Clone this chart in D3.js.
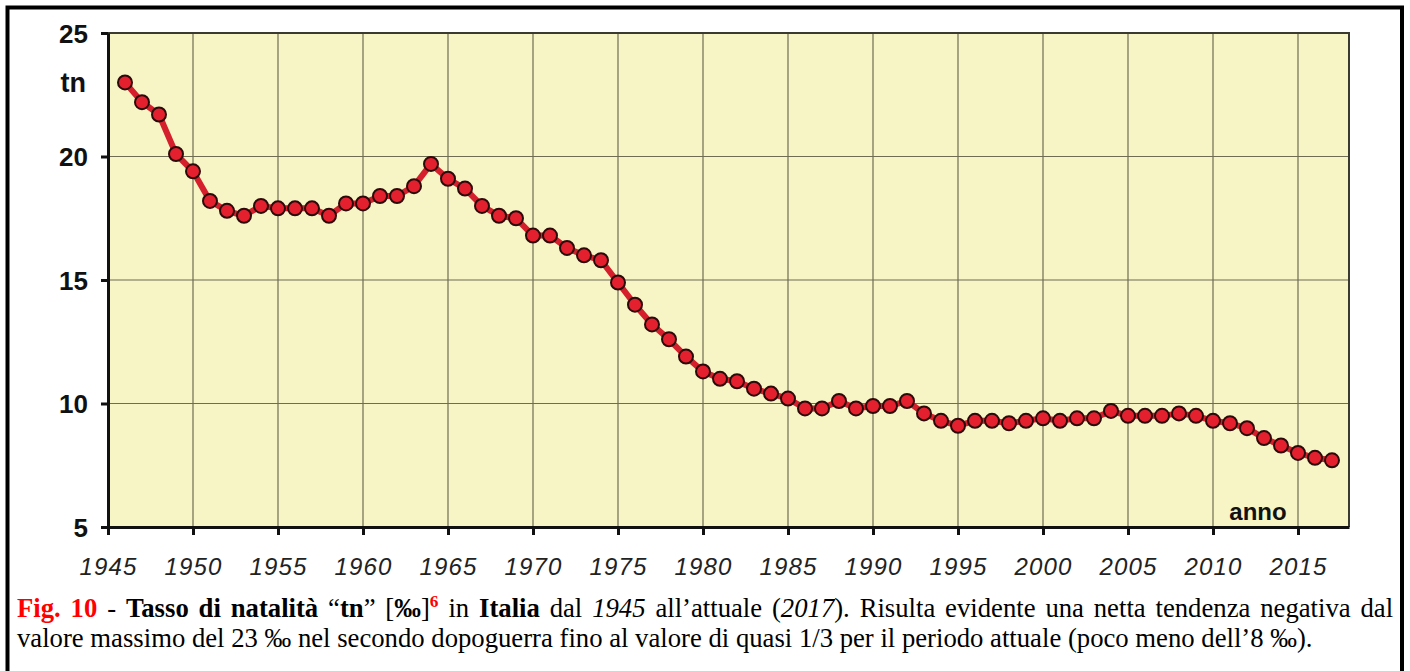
<!DOCTYPE html>
<html>
<head>
<meta charset="utf-8">
<script src="https://cdn.jsdelivr.net/npm/d3@7"></script>
<style>
  body { margin: 0; background: #fff; }
  svg { display: block; }
</style>
</head>
<body>
<div id="chart"></div>
<script>
var W = 1410,
    H = 671;

// anni e tasso di natalità (‰)
var years = [1946, 1947, 1948, 1949, 1950, 1951, 1952, 1953, 1954, 1955,
             1956, 1957, 1958, 1959, 1960, 1961, 1962, 1963, 1964, 1965,
             1966, 1967, 1968, 1969, 1970, 1971, 1972, 1973, 1974, 1975,
             1976, 1977, 1978, 1979, 1980, 1981, 1982, 1983, 1984, 1985,
             1986, 1987, 1988, 1989, 1990, 1991, 1992, 1993, 1994, 1995,
             1996, 1997, 1998, 1999, 2000, 2001, 2002, 2003, 2004, 2005,
             2006, 2007, 2008, 2009, 2010, 2011, 2012, 2013, 2014, 2015,
             2016, 2017];
var tn = [23.0, 22.2, 21.7, 20.1, 19.4, 18.2, 17.8, 17.6, 18.0, 17.9,
          17.9, 17.9, 17.6, 18.1, 18.1, 18.4, 18.4, 18.8, 19.7, 19.1,
          18.7, 18.0, 17.6, 17.5, 16.8, 16.8, 16.3, 16.0, 15.8, 14.9,
          14.0, 13.2, 12.6, 11.9, 11.3, 11.0, 10.9, 10.6, 10.4, 10.2,
          9.8, 9.8, 10.1, 9.8, 9.9, 9.9, 10.1, 9.6, 9.3, 9.1,
          9.3, 9.3, 9.2, 9.3, 9.4, 9.3, 9.4, 9.4, 9.7, 9.5,
          9.5, 9.5, 9.6, 9.5, 9.3, 9.2, 9.0, 8.6, 8.3, 8.0,
          7.8, 7.7];

var xTicks = [1945, 1950, 1955, 1960, 1965, 1970, 1975, 1980, 1985, 1990,
              1995, 2000, 2005, 2010, 2015];
var yTicks = [5, 10, 15, 20, 25];

var data = years.map(function(d, i) { return { year: d, v: tn[i] }; });

var svg = d3.select("#chart").append("svg")
            .attr("width", W)
            .attr("height", H);

var pLeft = 108, pRight = 1349, pTop = 33, pBottom = 527;

var x = d3.scaleLinear().domain([1945, 2018]).range([pLeft, pRight]);
var y = d3.scaleLinear().domain([5, 25]).range([pBottom, pTop]);

// cornice esterna
svg.append("path")
   .attr("d", "M7.5," + (H + 5) + "V7.5H1402V" + (H + 5))
   .attr("fill", "none")
   .attr("stroke", "#000")
   .attr("stroke-width", 4);

// sfondo del grafico
svg.append("rect")
   .attr("x", pLeft)
   .attr("y", pTop)
   .attr("width", pRight - pLeft)
   .attr("height", pBottom - pTop)
   .attr("fill", "#f7f5c6");

// griglia
svg.selectAll("line.vgrid")
   .data(xTicks.slice(1))
   .enter().append("line")
   .attr("class", "vgrid")
   .attr("x1", function(d) { return x(d); })
   .attr("x2", function(d) { return x(d); })
   .attr("y1", pTop)
   .attr("y2", pBottom)
   .attr("stroke", "#6e6c52")
   .attr("stroke-width", 1.2);

svg.selectAll("line.hgrid")
   .data([10, 15, 20])
   .enter().append("line")
   .attr("class", "hgrid")
   .attr("x1", pLeft)
   .attr("x2", pRight)
   .attr("y1", function(d) { return y(d); })
   .attr("y2", function(d) { return y(d); })
   .attr("stroke", "#6e6c52")
   .attr("stroke-width", 1.2);

// bordo superiore e destro
svg.append("path")
   .attr("d", "M" + pLeft + "," + pTop + "H" + pRight + "V" + pBottom)
   .attr("fill", "none")
   .attr("stroke", "#3a3a30")
   .attr("stroke-width", 2);

// assi
var yAxis = svg.append("g")
               .attr("transform", "translate(" + pLeft + ",0)")
               .call(d3.axisLeft(y).tickValues(yTicks).tickSize(7).tickSizeOuter(0).tickPadding(13));

var xAxis = svg.append("g")
               .attr("transform", "translate(0," + pBottom + ")")
               .call(d3.axisBottom(x).tickValues(xTicks).tickSize(8).tickSizeOuter(0).tickFormat(d3.format("d")));

svg.selectAll(".domain").attr("stroke", "#111").attr("stroke-width", 3);
svg.selectAll(".tick line").attr("stroke", "#111").attr("stroke-width", 3);

yAxis.selectAll("text")
     .attr("font-family", "'Liberation Sans', Arial, sans-serif")
     .attr("font-size", "26px")
     .attr("font-weight", "bold")
     .attr("fill", "#111")
     .attr("dy", "0.36em");

xAxis.selectAll("text")
     .attr("font-family", "'Liberation Sans', Arial, sans-serif")
     .attr("font-size", "24px")
     .attr("font-style", "italic")
     .attr("letter-spacing", "1.2px")
     .attr("fill", "#222")
     .attr("y", 48)
     .attr("dy", 0);

svg.append("text")
   .text("tn")
   .attr("x", 86)
   .attr("y", 92)
   .attr("text-anchor", "end")
   .attr("font-family", "'Liberation Sans', Arial, sans-serif")
   .attr("font-size", "27px")
   .attr("font-weight", "bold")
   .attr("fill", "#111");

svg.append("text")
   .text("anno")
   .attr("x", 1258)
   .attr("y", 520)
   .attr("text-anchor", "middle")
   .attr("font-family", "'Liberation Sans', Arial, sans-serif")
   .attr("font-size", "24px")
   .attr("font-weight", "bold")
   .attr("fill", "#111");

// linea e punti
var line = d3.line()
             .x(function(d) { return x(d.year); })
             .y(function(d) { return y(d.v); });

svg.append("path")
   .datum(data)
   .attr("d", line)
   .attr("fill", "none")
   .attr("stroke", "#d61f2c")
   .attr("stroke-width", 6)
   .attr("stroke-linejoin", "round");

svg.selectAll("circle")
   .data(data)
   .enter().append("circle")
   .attr("cx", function(d) { return x(d.year); })
   .attr("cy", function(d) { return y(d.v); })
   .attr("r", 7)
   .attr("fill", "#e5202e")
   .attr("stroke", "#2a0a0a")
   .attr("stroke-width", 2);

// didascalia
var serif = "'Liberation Serif', 'Times New Roman', serif";

var line1 = [
  { t: "Fig. 10", w: "bold", c: "#f00" },
  { t: " - " },
  { t: "Tasso di natalità", w: "bold" },
  { t: " “" },
  { t: "tn", w: "bold" },
  { t: "” [" },
  { t: "‰", w: "bold" },
  { t: "]" },
  { t: "6", w: "bold", c: "#f00", sup: true },
  { t: " in ", down: true },
  { t: "Italia", w: "bold" },
  { t: " dal " },
  { t: "1945", s: "italic" },
  { t: " all’attuale (" },
  { t: "2017", s: "italic" },
  { t: "). Risulta evidente una netta tendenza negativa dal" }
];
var line2 = "valore massimo del 23 ‰ nel secondo dopoguerra fino al valore di quasi 1/3 per il periodo attuale (poco meno dell’8 ‰).";

// la seconda riga finisce a circa x = 1313: si ricava la dimensione del font
var cap2 = svg.append("text")
              .text(line2)
              .attr("x", 17)
              .attr("y", 647)
              .attr("font-family", serif)
              .attr("font-size", "20px")
              .attr("fill", "#000");
var fs = 20 * (1313 - 17) / cap2.node().getComputedTextLength();
cap2.attr("font-size", fs + "px");

var cap1 = svg.append("text")
              .attr("x", 17)
              .attr("y", 617)
              .attr("font-family", serif)
              .attr("font-size", fs + "px")
              .attr("fill", "#000")
              .attr("xml:space", "preserve");

line1.forEach(function(p) {
  var ts = cap1.append("tspan").text(p.t);
  if (p.w) ts.attr("font-weight", p.w);
  if (p.s) ts.attr("font-style", p.s);
  if (p.c) ts.attr("fill", p.c);
  if (p.sup) ts.attr("font-size", (fs * 0.65) + "px").attr("dy", -10);
  if (p.down) ts.attr("dy", 10);
});

// giustifica la prima riga fino al margine destro
var natural = cap1.node().getComputedTextLength();
var gaps = line1.map(function(p) { return p.t; }).join("").split(" ").length - 1;
var extra = (1393 - 17 - natural) / gaps;
cap1.attr("word-spacing", extra + "px");
</script>
</body>
</html>
